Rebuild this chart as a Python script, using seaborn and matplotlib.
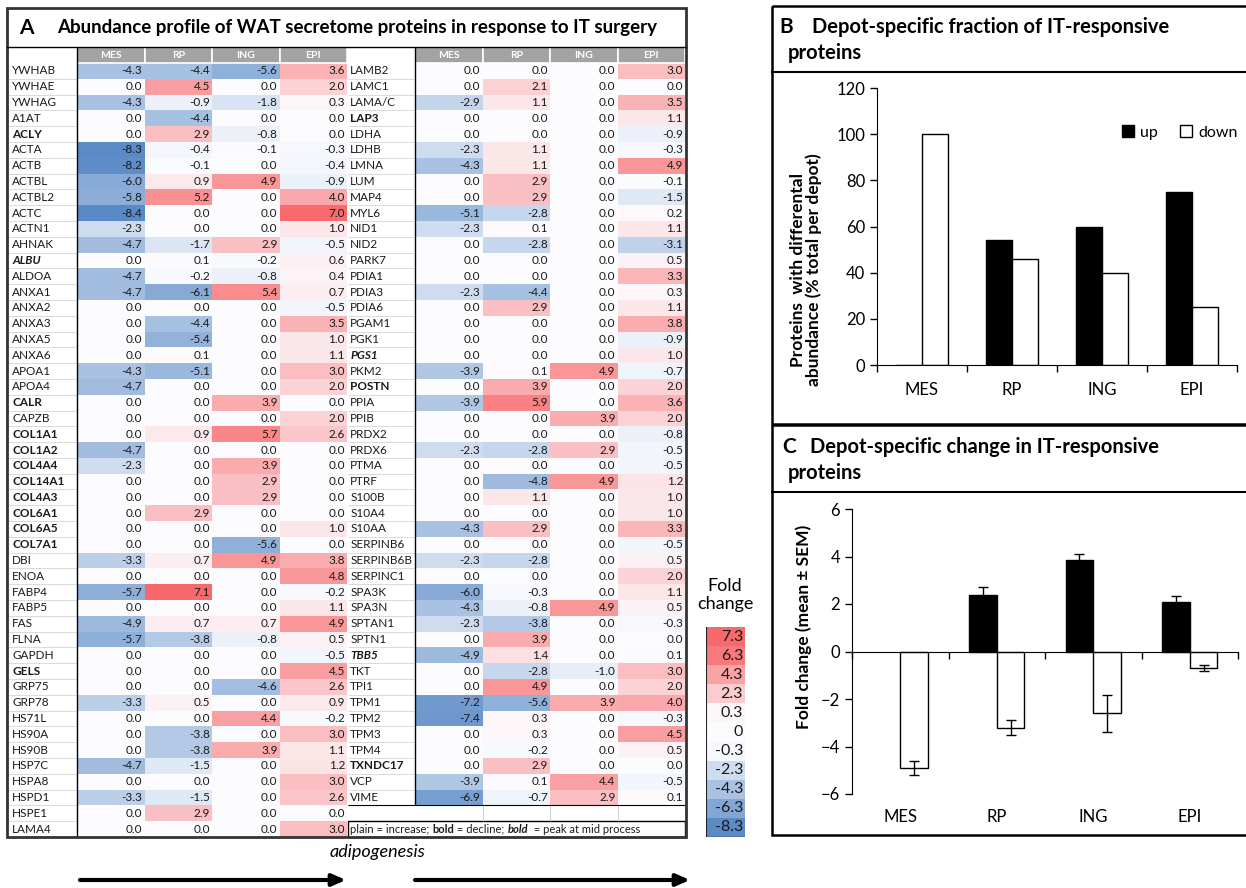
import numpy as np
import pandas as pd
import matplotlib
matplotlib.use('Agg')
import matplotlib.pyplot as plt
import matplotlib.transforms as mtransforms
import seaborn as sns
from matplotlib.colors import LinearSegmentedColormap, TwoSlopeNorm
from matplotlib.patches import Rectangle

plt.rcParams['font.family'] = ['Lato', 'DejaVu Sans']

# ---- data -------------------------------------------------------------
depots = ['MES', 'RP', 'ING', 'EPI']

left_names = ['YWHAB', 'YWHAE', 'YWHAG', 'A1AT', 'ACLY', 'ACTA', 'ACTB', 'ACTBL', 'ACTBL2', 'ACTC',
              'ACTN1', 'AHNAK', 'ALBU', 'ALDOA', 'ANXA1', 'ANXA2', 'ANXA3', 'ANXA5', 'ANXA6', 'APOA1',
              'APOA4', 'CALR', 'CAPZB', 'COL1A1', 'COL1A2', 'COL4A4', 'COL14A1', 'COL4A3', 'COL6A1', 'COL6A5',
              'COL7A1', 'DBI', 'ENOA', 'FABP4', 'FABP5', 'FAS', 'FLNA', 'GAPDH', 'GELS', 'GRP75',
              'GRP78', 'HS71L', 'HS90A', 'HS90B', 'HSP7C', 'HSPA8', 'HSPD1', 'HSPE1', 'LAMA4']
left_mes = [-4.3, 0.0, -4.3, 0.0, 0.0, -8.3, -8.2, -6.0, -5.8, -8.4,
            -2.3, -4.7, 0.0, -4.7, -4.7, 0.0, 0.0, 0.0, 0.0, -4.3,
            -4.7, 0.0, 0.0, 0.0, -4.7, -2.3, 0.0, 0.0, 0.0, 0.0,
            0.0, -3.3, 0.0, -5.7, 0.0, -4.9, -5.7, 0.0, 0.0, 0.0,
            -3.3, 0.0, 0.0, 0.0, -4.7, 0.0, -3.3, 0.0, 0.0]
left_rp = [-4.4, 4.5, -0.9, -4.4, 2.9, -0.4, -0.1, 0.9, 5.2, 0.0,
           0.0, -1.7, 0.1, -0.2, -6.1, 0.0, -4.4, -5.4, 0.1, -5.1,
           0.0, 0.0, 0.0, 0.9, 0.0, 0.0, 0.0, 0.0, 2.9, 0.0,
           0.0, 0.7, 0.0, 7.1, 0.0, 0.7, -3.8, 0.0, 0.0, 0.0,
           0.5, 0.0, -3.8, -3.8, -1.5, 0.0, -1.5, 2.9, 0.0]
left_ing = [-5.6, 0.0, -1.8, 0.0, -0.8, -0.1, 0.0, 4.9, 0.0, 0.0,
            0.0, 2.9, -0.2, -0.8, 5.4, 0.0, 0.0, 0.0, 0.0, 0.0,
            0.0, 3.9, 0.0, 5.7, 0.0, 3.9, 2.9, 2.9, 0.0, 0.0,
            -5.6, 4.9, 0.0, 0.0, 0.0, 0.7, -0.8, 0.0, 0.0, -4.6,
            0.0, 4.4, 0.0, 3.9, 0.0, 0.0, 0.0, 0.0, 0.0]
left_epi = [3.6, 2.0, 0.3, 0.0, 0.0, -0.3, -0.4, -0.9, 4.0, 7.0,
            1.0, -0.5, 0.6, 0.4, 0.7, -0.5, 3.5, 1.0, 1.1, 3.0,
            2.0, 0.0, 2.0, 2.6, 0.0, 0.0, 0.0, 0.0, 0.0, 1.0,
            0.0, 3.8, 4.8, -0.2, 1.1, 4.9, 0.5, -0.5, 4.5, 2.6,
            0.9, -0.2, 3.0, 1.1, 1.2, 3.0, 2.6, 0.0, 3.0]

right_names = ['LAMB2', 'LAMC1', 'LAMA/C', 'LAP3', 'LDHA', 'LDHB', 'LMNA', 'LUM', 'MAP4', 'MYL6',
               'NID1', 'NID2', 'PARK7', 'PDIA1', 'PDIA3', 'PDIA6', 'PGAM1', 'PGK1', 'PGS1', 'PKM2',
               'POSTN', 'PPIA', 'PPIB', 'PRDX2', 'PRDX6', 'PTMA', 'PTRF', 'S100B', 'S10A4', 'S10AA',
               'SERPINB6', 'SERPINB6B', 'SERPINC1', 'SPA3K', 'SPA3N', 'SPTAN1', 'SPTN1', 'TBB5', 'TKT', 'TPI1',
               'TPM1', 'TPM2', 'TPM3', 'TPM4', 'TXNDC17', 'VCP', 'VIME']
right_mes = [0.0, 0.0, -2.9, 0.0, 0.0, -2.3, -4.3, 0.0, 0.0, -5.1,
             -2.3, 0.0, 0.0, 0.0, -2.3, 0.0, 0.0, 0.0, 0.0, -3.9,
             0.0, -3.9, 0.0, 0.0, -2.3, 0.0, 0.0, 0.0, 0.0, -4.3,
             0.0, -2.3, 0.0, -6.0, -4.3, -2.3, 0.0, -4.9, 0.0, 0.0,
             -7.2, -7.4, 0.0, 0.0, 0.0, -3.9, -6.9]
right_rp = [0.0, 2.1, 1.1, 0.0, 0.0, 1.1, 1.1, 2.9, 2.9, -2.8,
            0.1, -2.8, 0.0, 0.0, -4.4, 2.9, 0.0, 0.0, 0.0, 0.1,
            3.9, 5.9, 0.0, 0.0, -2.8, 0.0, -4.8, 1.1, 0.0, 2.9,
            0.0, -2.8, 0.0, -0.3, -0.8, -3.8, 3.9, 1.4, -2.8, 4.9,
            -5.6, 0.3, 0.3, -0.2, 2.9, 0.1, -0.7]
right_ing = [0.0, 0.0, 0.0, 0.0, 0.0, 0.0, 0.0, 0.0, 0.0, 0.0,
             0.0, 0.0, 0.0, 0.0, 0.0, 0.0, 0.0, 0.0, 0.0, 4.9,
             0.0, 0.0, 3.9, 0.0, 2.9, 0.0, 4.9, 0.0, 0.0, 0.0,
             0.0, 0.0, 0.0, 0.0, 4.9, 0.0, 0.0, 0.0, -1.0, 0.0,
             3.9, 0.0, 0.0, 0.0, 0.0, 4.4, 2.9]
right_epi = [3.0, 0.0, 3.5, 1.1, -0.9, -0.3, 4.9, -0.1, -1.5, 0.2,
             1.1, -3.1, 0.5, 3.3, 0.3, 1.1, 3.8, -0.9, 1.0, -0.7,
             2.0, 3.6, 2.0, -0.8, -0.5, -0.5, 1.2, 1.0, 1.0, 3.3,
             -0.5, 0.5, 2.0, 1.1, 0.5, -0.3, 0.0, 0.1, 3.0, 2.0,
             4.0, -0.3, 4.5, 0.5, 0.0, -0.5, 0.1]

# bold = decline, bold italic = peak at mid process
decline = {'ACLY', 'CALR', 'COL1A1', 'COL1A2', 'COL4A4', 'COL14A1', 'COL4A3', 'COL6A1',
           'COL6A5', 'COL7A1', 'GELS', 'LAP3', 'POSTN', 'TXNDC17'}
peak_mid = {'ALBU', 'PGS1', 'TBB5'}

legend_steps = [7.3, 6.3, 4.3, 2.3, 0.3, 0, -0.3, -2.3, -4.3, -6.3, -8.3]

# panel B: % of proteins per depot
frac_up = [0, 54, 60, 75]
frac_down = [100, 46, 40, 25]

# panel C: fold change mean +- SEM
fc_up = [np.nan, 2.4, 3.85, 2.1]
fc_up_sem = [np.nan, 0.33, 0.25, 0.25]
fc_down = [-4.9, -3.2, -2.6, -0.7]
fc_down_sem = [0.3, 0.33, 0.78, 0.13]

# ---- figure -----------------------------------------------------------
W, H = 1246, 888
fig = plt.figure(figsize=(W / 100, H / 100), dpi=100)
fig.patch.set_facecolor('white')


def px(x0, y0, x1, y1):
    return [x0 / W, 1 - y1 / H, (x1 - x0) / W, (y1 - y0) / H]


cmap = LinearSegmentedColormap.from_list('excel3', ['#5A8AC6', '#FCFCFF', '#F8696B'])
norm = TwoSlopeNorm(vmin=-8.4, vcenter=0, vmax=7.1)
ink = '#1a1a1a'


def name_style(n):
    if n in peak_mid:
        return dict(weight='bold', style='italic')
    if n in decline:
        return dict(weight='bold')
    return dict()


def table(ax, names, mes, rp, ing, epi, nrows, name_x, name_w):
    df = pd.DataFrame({'MES': mes, 'RP': rp, 'ING': ing, 'EPI': epi}, index=names)
    df = df.reindex(list(names) + [''] * (nrows - len(names)))
    sns.heatmap(df.values.astype(float), ax=ax, cmap=cmap, norm=norm, cbar=False,
                annot=True, fmt='.1f', annot_kws={'size': 8.5, 'color': ink},
                xticklabels=False, yticklabels=False)
    for t in ax.texts:
        x, y = t.get_position()
        t.set_position((x + 0.47, y))
        t.set_ha('right')
    # header
    for j, d in enumerate(depots):
        ax.add_patch(Rectangle((j, -1), 1, 1, facecolor='#a3a3a3', edgecolor='white',
                               lw=1.2, clip_on=False))
        ax.text(j + 0.5, -0.5, d, color='white', weight='bold', ha='center', va='center',
                fontsize=7.5)
    # names
    for i, n in enumerate(names):
        ax.text(name_x, i + 0.5, n, ha='left', va='center', fontsize=8.5, color=ink, **name_style(n))
    ax.hlines(np.arange(1, len(names)), -name_w, 0, colors='#d4d4d4', lw=0.6, clip_on=False)
    ax.vlines(0, -1, len(names), colors='black', lw=1, clip_on=False)
    ax.set_xlim(0, 4)
    ax.set_ylim(nrows, 0)


ax_l = fig.add_axes(px(77, 63, 347, 837))
table(ax_l, left_names, left_mes, left_rp, left_ing, left_epi, 49, -0.96, 1.037)

ax_r = fig.add_axes(px(415, 63, 685, 837))
table(ax_r, right_names, right_mes, right_rp, right_ing, right_epi, 49, -0.96, 1.0)
ax_r.vlines([1, 2, 3], 47, 48, colors='#c8c8c8', lw=0.6)
ax_r.hlines(47, -1.0, 4, colors='black', lw=0.8, clip_on=False)
ax_r.add_patch(Rectangle((-1.0, 48), 5.0, 1, facecolor='white', edgecolor='black', lw=1, clip_on=False))
t1 = ax_r.text(-0.96, 48.5, 'plain = increase; ', ha='left', va='center', fontsize=8, color=ink)
t2 = ax_r.annotate('bold', xycoords=t1, xy=(1, 0), va='bottom', fontsize=8, weight='bold', color=ink)
t3 = ax_r.annotate(' = decline; ', xycoords=t2, xy=(1, 0), va='bottom', fontsize=8, color=ink)
t4 = ax_r.annotate('bold', xycoords=t3, xy=(1, 0), va='bottom', fontsize=8, weight='bold',
                   style='italic', color=ink)
ax_r.annotate('  = peak at mid process', xycoords=t4, xy=(1, 0), va='bottom', fontsize=8, color=ink)

# colour key
ax_k = fig.add_axes(px(706, 627, 745, 837))
key = np.array(legend_steps, dtype=float).reshape(-1, 1)
sns.heatmap(key, ax=ax_k, cmap=cmap, norm=norm, cbar=False,
            annot=np.array([[f'{v:g}'] for v in legend_steps]), fmt='',
            annot_kws={'size': 11.5, 'color': ink}, xticklabels=False, yticklabels=False)
for t in ax_k.texts:
    x, y = t.get_position()
    t.set_position((x + 0.45, y))
    t.set_ha('right')
ax_k.axvline(0, color='#222222', lw=1.5)
ax_k.axhline(len(legend_steps), color='#222222', lw=1)

# ---- panel B ----------------------------------------------------------
dfB = pd.DataFrame({'depot': depots * 2,
                    'dir': ['up'] * 4 + ['down'] * 4,
                    'pct': frac_up + frac_down})
axB = fig.add_axes(px(877, 88, 1237, 365))
sns.barplot(data=dfB, x='depot', y='pct', hue='dir', palette={'up': 'black', 'down': 'white'},
            edgecolor='black', linewidth=1, width=0.58, errorbar=None, ax=axB)
axB.set_xlim(-0.5, 3.5)
axB.set_ylim(0, 120)
axB.set_yticks(range(0, 121, 20))
axB.set_xticks(range(4))
axB.set_xticks(np.arange(-0.5, 4, 1), minor=True)
axB.tick_params(axis='x', which='major', length=0, pad=12, labelsize=12)
axB.tick_params(axis='x', which='minor', length=5, direction='out', width=1)
axB.tick_params(axis='y', length=5, direction='out', labelsize=12, width=1)
axB.spines[['top', 'right']].set_visible(False)
axB.set_xlabel('')
axB.set_ylabel('Proteins  with differental\nabundance (% total per depot)', weight='bold',
               fontsize=12.5, linespacing=0.95)
axB.yaxis.set_label_coords(-0.153, 0.343)
h, l = axB.get_legend_handles_labels()
axB.legend(h, l, loc='center left', bbox_to_anchor=(0.64, 0.84), ncol=2, frameon=False,
           handlelength=0.75, handleheight=0.75, handletextpad=0.4, columnspacing=1.4, fontsize=11.5)

# ---- panel C ----------------------------------------------------------
dfC = pd.DataFrame({'depot': depots * 2,
                    'dir': ['up'] * 4 + ['down'] * 4,
                    'fc': fc_up + fc_down})
semC = {'up': fc_up_sem, 'down': fc_down_sem}
axC = fig.add_axes(px(852, 509, 1238, 794))
sns.barplot(data=dfC, x='depot', y='fc', hue='dir', palette={'up': 'black', 'down': 'white'},
            edgecolor='black', linewidth=1, width=0.57, errorbar=None, legend=False, ax=axC,
            order=depots, hue_order=['up', 'down'])
for cont, lvl in zip(axC.containers, ['up', 'down']):
    for bar in cont:
        xc = bar.get_x() + bar.get_width() / 2
        j = int(round(xc))
        if np.isnan(semC[lvl][j]) or np.isnan(bar.get_height()):
            continue
        axC.errorbar(xc, bar.get_y() + bar.get_height(), yerr=semC[lvl][j], fmt='none',
                     ecolor='black', elinewidth=1, capsize=3.5, capthick=1)
axC.set_xlim(-0.5, 3.5)
axC.set_ylim(-6, 6)
axC.set_yticks(range(-6, 7, 2))
axC.spines[['top', 'right']].set_visible(False)
axC.spines['bottom'].set_position(('data', 0))
axC.set_xticks(np.arange(-0.5, 4, 1))
axC.set_xticklabels([])
axC.tick_params(axis='x', length=5, direction='out', width=1)
axC.tick_params(axis='y', length=5, direction='out', labelsize=12, width=1)
trC = mtransforms.blended_transform_factory(axC.transData, axC.transAxes)
for j, d in enumerate(depots):
    axC.text(j, -0.08, d, transform=trC, ha='center', va='center', fontsize=12)
axC.set_xlabel('')
axC.set_ylabel('Fold change (mean ± SEM)', weight='bold', fontsize=12.5)
axC.yaxis.set_label_coords(-0.104, 0.586)

# ---- frames and free text ---------------------------------------------
ov = fig.add_axes([0, 0, 1, 1])
ov.set_xlim(0, W)
ov.set_ylim(H, 0)
ov.axis('off')
ov.patch.set_alpha(0)

# panel A frame
ov.add_patch(Rectangle((7, 8), 679, 829, fill=False, edgecolor='#333333', lw=2))
ov.plot([7, 686], [47, 47], color='black', lw=1)
ov.text(19, 28, 'A', weight='bold', fontsize=15, va='center')
ov.text(57, 28, 'Abundance profile of WAT secretome proteins in response to IT surgery',
        weight='bold', fontsize=13.5, va='center')
ov.text(725, 595, 'Fold\nchange', ha='center', va='center', fontsize=13, linespacing=1.15)
ov.text(377, 852, 'adipogenesis', ha='center', va='center', fontsize=13, style='italic')
for x0, x1 in [(80, 346), (415, 690)]:
    ov.annotate('', xy=(x1, 880), xytext=(x0, 880),
                arrowprops=dict(arrowstyle='-|>,head_length=0.8,head_width=0.35', lw=3,
                                color='black', shrinkA=0, shrinkB=0))

# panel B frame
ov.add_patch(Rectangle((772, 6), 500, 418, fill=False, edgecolor='black', lw=1.8))
ov.plot([772, 1250], [72, 72], color='black', lw=1.5)
ov.text(779, 27, 'B', weight='bold', fontsize=15, va='center')
ov.text(812, 27, 'Depot-specific fraction of IT-responsive', weight='bold', fontsize=14.5, va='center')
ov.text(788, 53, 'proteins', weight='bold', fontsize=14.5, va='center')

# panel C frame
ov.add_patch(Rectangle((772, 425), 500, 410, fill=False, edgecolor='black', lw=1.8))
ov.plot([772, 1250], [492, 492], color='black', lw=1.5)
ov.text(782, 447, 'C', weight='bold', fontsize=15, va='center')
ov.text(810, 447, 'Depot-specific change in IT-responsive', weight='bold', fontsize=14.5, va='center')
ov.text(788, 473, 'proteins', weight='bold', fontsize=14.5, va='center')

fig.savefig('out.png', dpi=100)
